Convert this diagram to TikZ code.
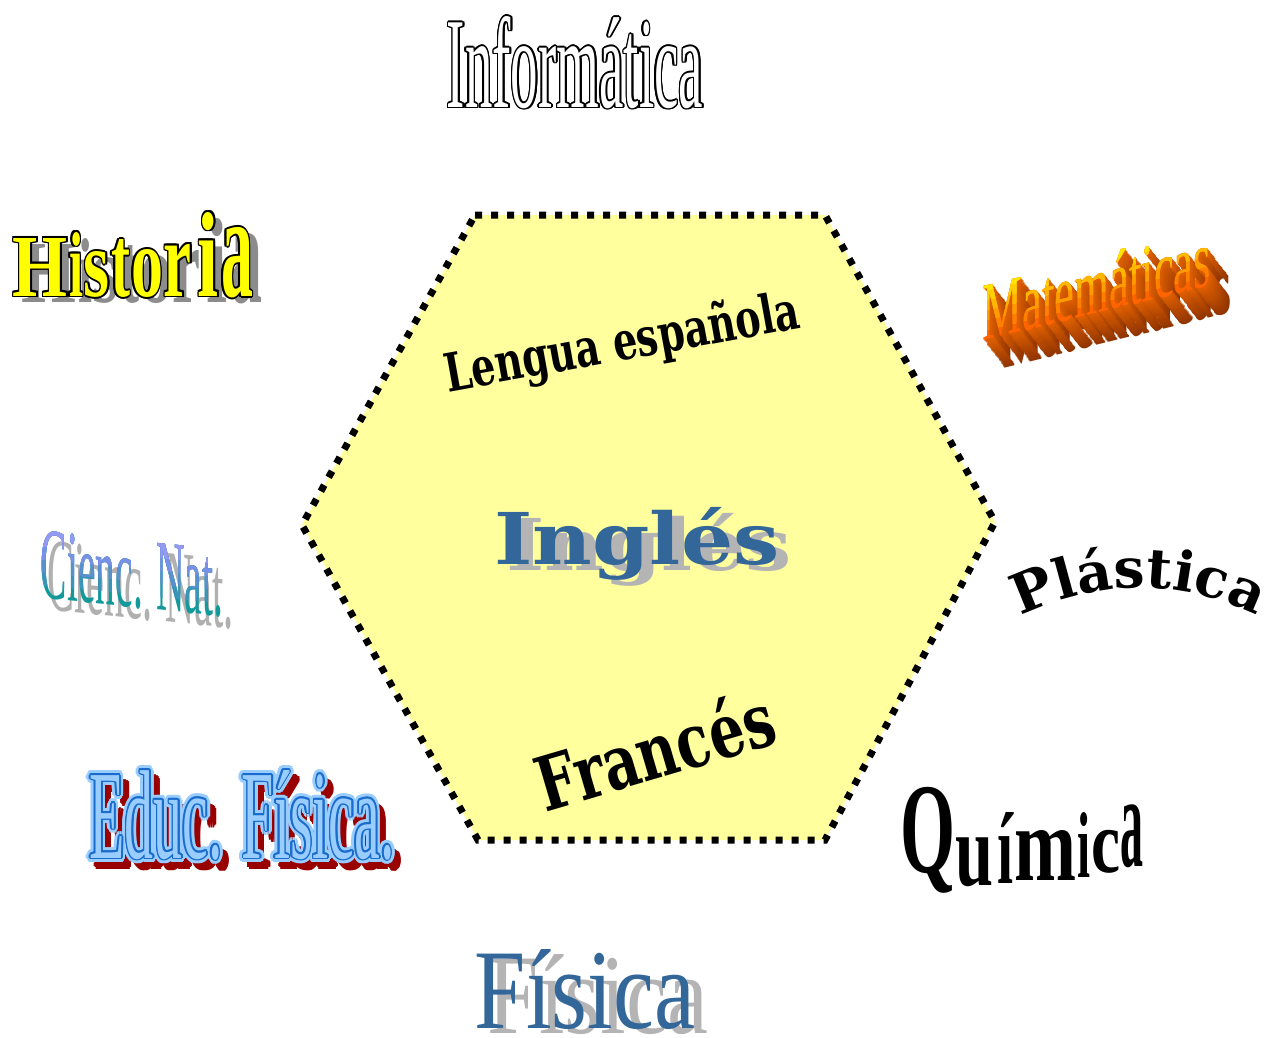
\documentclass[tikz,border=0pt]{standalone}
\usepackage{fontspec}
\setmainfont{Liberation Serif}
\newfontfamily\dvs{DejaVu Serif}
\usetikzlibrary{decorations.text}

\definecolor{hexfill}{HTML}{FFFF9E}
\definecolor{navy}{HTML}{336699}
\definecolor{shgray}{HTML}{B4B4B4}
\definecolor{histyellow}{HTML}{FFFF00}
\definecolor{histshadow}{HTML}{8C8C8C}
\definecolor{matdark}{HTML}{7A2800}
\definecolor{matmid}{HTML}{E06000}
\definecolor{mat0}{HTML}{FF6400}
\definecolor{mat1}{HTML}{FF8000}
\definecolor{mat2}{HTML}{FF9C00}
\definecolor{mat3}{HTML}{FFB800}
\definecolor{mat4}{HTML}{FFD000}
\definecolor{mat5}{HTML}{FFE600}
\definecolor{cn0}{HTML}{14999A}
\definecolor{cn1}{HTML}{3A93B8}
\definecolor{cn2}{HTML}{5A8FD0}
\definecolor{cn3}{HTML}{7891E4}
\definecolor{cn4}{HTML}{9499F2}
\definecolor{cngray}{HTML}{B0B0B0}
\definecolor{edred}{HTML}{990000}
\definecolor{edlight}{HTML}{99CCFF}
\definecolor{edblue}{HTML}{1A6CCC}

\tikzset{
  wa/.style={inner sep=0pt, outer sep=0pt},
  hexborder/.style={fill=hexfill, draw=black, line width=7pt, dash pattern=on 7pt off 9pt},
}

% outlined copies of a text around a position
\newcommand\ringtxt[5]{\foreach \rang in {0,#4,...,359}{\node[wa,text=#2,shift={(\rang:#3)}] at (#1) {#5};}}
% one letter of Historia: x, y, w, h, char
\newcommand\histl[5]{%
  \node[wa,text=histshadow] at ({#1+9},{#2+6}) {\resizebox{#3pt}{#4pt}{\bfseries #5}};
  \ringtxt{#1,#2}{black}{1.8}{45}{\resizebox{#3pt}{#4pt}{\bfseries #5}}
  \node[wa,text=histyellow] at (#1,#2) {\resizebox{#3pt}{#4pt}{\bfseries #5}};}
% one letter of Quimica
\newcommand\quil[5]{\node[wa] at (#1,#2) {\resizebox*{#3pt}{#4pt}{\bfseries #5}};}

\begin{document}
\begin{tikzpicture}[x=1pt,y=-1pt]
\useasboundingbox (0,0) rectangle (1272,1037);
\fill[white] (0,0) rectangle (1272,1037);

% hexagon
\coordinate (h1) at (475,215);
\coordinate (h2) at (825,215);
\coordinate (h3) at (995,522);
\coordinate (h4) at (825,840);
\coordinate (h5) at (478,840);
\coordinate (h6) at (302,525);
\draw[hexborder] (h1) -- (h2) -- (h3) -- (h4) -- (h5) -- (h6) -- cycle;

% Informatica
\def\infbox{\resizebox{256pt}{91pt}{Informática}}
\ringtxt{575,62.5}{black}{1.6}{30}{\infbox}
\node[wa,text=white] (informatica) at (575,62.5) {\infbox};

% Historia
\histl{40.5}{267}{55}{58}{H}
\histl{76}{264}{14}{64}{i}
\histl{97}{274.5}{26}{45}{s}
\histl{120.5}{268.5}{19}{57}{t}
\histl{147}{273.5}{32}{47}{o}
\histl{178}{270}{28}{52}{r}
\histl{208.5}{254}{21}{84}{i}
\histl{237}{262.5}{32}{69}{a}

% Matematicas
\def\matbox{\resizebox{228pt}{57pt}{Matemáticas}}
\begin{scope}[shift={(1097,313)},yslant=0.244]
  \foreach \k in {26,25,...,1}{
    \pgfmathtruncatemacro\pc{100-\k*3}
    \node[wa,anchor=base,transform shape,text=matmid!\pc!matdark] at (0.8*\k,1.25*\k) {\matbox};
  }
  \node[wa,anchor=base,transform shape,text=mat0] (matematicas) at (0,0) {\matbox};
  \foreach \i in {1,...,5}{
    \begin{scope}
      \clip (-140,{-\i*10}) rectangle (140,-110);
      \node[wa,anchor=base,transform shape,text=mat\i] at (0,0) {\matbox};
    \end{scope}
  }
\end{scope}

% Cienc. Nat.
\def\cnbox{\resizebox{182pt}{67pt}{Cienc. Nat.}}
\begin{scope}[shift={(132,607)},yslant=-0.1]
  \node[wa,anchor=base,transform shape,text=cngray] at (9,11) {\resizebox{186pt}{69pt}{Cienc. Nat.}};
  \node[wa,anchor=base,transform shape,text=cn0] (ciencnat) at (0,0) {\cnbox};
  \foreach \i in {1,...,4}{
    \begin{scope}
      \clip (-120,{-\i*13}) rectangle (120,-120);
      \node[wa,anchor=base,transform shape,text=cn\i] at (0,0) {\cnbox};
    \end{scope}
  }
\end{scope}

% Educ. Fisica.
\def\edbox{\resizebox{305pt}{88pt}{Educ. Física.}}
\ringtxt{249,823}{edred}{3.5}{30}{\edbox}
\node[wa,text=edred] at (249,823) {\edbox};
\ringtxt{242,815}{edlight}{4.5}{22.5}{\edbox}
\ringtxt{242,815}{edblue}{1.6}{30}{\edbox}
\node[wa,text=edlight] (educ) at (242,815) {\edbox};

% Fisica
\def\fisbox{\resizebox{220pt}{79pt}{Física}}
\node[wa,text=shgray] at (598,995) {\fisbox};
\node[wa,text=navy] (fisica) at (585,990) {\fisbox};

% Ingles
\def\ingbox{\resizebox*{285pt}{73pt}{\dvs\bfseries Inglés}}
\node[wa,text=shgray] at (649,549.5) {\ingbox};
\node[wa,text=navy] (ingles) at (637,543.5) {\ingbox};

% Lengua espanola
\node[wa,anchor=base west,rotate=10.3] (lengua) at (448,392) {\resizebox{360pt}{42pt}{\dvs\bfseries Lengua española}};

% Frances
\node[wa,anchor=base west,rotate=16.4] (frances) at (545,812) {\resizebox{245pt}{60pt}{\dvs\bfseries Francés}};

% Plastica
\path[decorate,decoration={text along path,text={|\dvs\bfseries\fontsize{55pt}{55pt}\selectfont|Plástica},text align=center}]
  (1139,852) ++(-117:264) arc[start angle=-117,end angle=-63,radius=264];

% Quimica
\quil{927.5}{840}{55}{106}{Q}
\quil{974}{862.5}{38}{49}{u}
\quil{1005}{847.5}{16}{71}{í}
\quil{1045}{855}{62}{50}{m}
\quil{1083.5}{844.5}{13}{65}{i}
\quil{1105.5}{851.5}{29}{43}{c}
\quil{1131.5}{836.5}{23}{63}{a}
\end{tikzpicture}
\end{document}
